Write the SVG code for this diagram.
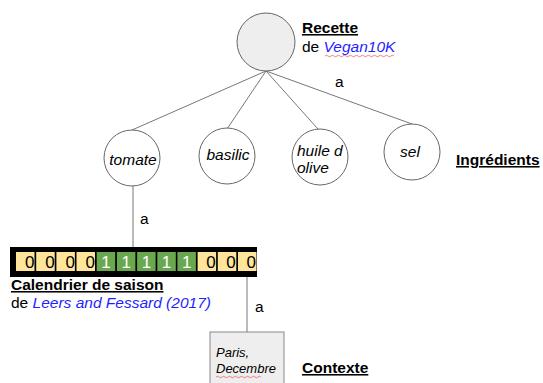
<svg xmlns="http://www.w3.org/2000/svg" width="543" height="383" viewBox="0 0 543 383">
<defs>
<style>
.c{fill:#fff;stroke:#666;stroke-width:1}
.ln{stroke:#777;stroke-width:1;fill:none}
.t{font-family:"Liberation Sans",Arial,sans-serif;font-size:15.5px;fill:#000}
.i{font-style:italic}
.h{font-weight:bold;text-decoration:underline}
.b{fill:#1f1fff;font-style:italic}
.y{fill:#ffe599}
.g{fill:#6aa84f}
.ct{font-family:"Liberation Sans",Arial,sans-serif;font-size:17px}
.w{fill:none;stroke:#e06666;stroke-width:0.8}
</style>
</defs>
<rect width="543" height="383" fill="#fff"/>
<g id="connectors">
<line class="ln" x1="266" y1="71" x2="132" y2="130"/>
<line class="ln" x1="266" y1="71" x2="227" y2="129"/>
<line class="ln" x1="266" y1="71" x2="318" y2="129"/>
<line class="ln" x1="266" y1="71" x2="412" y2="124"/>
<text class="t" x="335" y="87">a</text>
<line class="ln" x1="133" y1="186" x2="133" y2="247"/>
<text class="t" x="140" y="224">a</text>
<line class="ln" x1="247" y1="271" x2="247" y2="332"/>
<text class="t" x="255" y="312">a</text>
</g>
<g id="recette">
<circle cx="266" cy="42" r="29" fill="#eeeeee" stroke="#666"/>
<text class="t h" x="302" y="33">Recette</text>
<text class="t" x="302" y="52">de <tspan class="b">Vegan10K</tspan></text>
<path class="w" d="M325 56 q1.5 -1.5 3 0 t3 0 t3 0 t3 0 t3 0 t3 0 t3 0 t3 0 t3 0 t3 0 t3 0 t3 0 t3 0 t3 0 t3 0 t3 0 t3 0 t3 0 t3 0 t3 0 t3 0 t3 0 t3 0"/>
</g>
<g id="tomate">
<circle class="c" cx="132" cy="158" r="28"/>
<text class="t i" x="133" y="165" text-anchor="middle">tomate</text>
</g>
<g id="basilic">
<circle class="c" cx="227" cy="156" r="28"/>
<text class="t i" x="228" y="160" text-anchor="middle">basilic</text>
</g>
<g id="huile">
<circle class="c" cx="320" cy="157" r="28"/>
<text class="t i" x="297" y="156">huile d</text>
<text class="t i" x="297" y="173">olive</text>
</g>
<g id="sel">
<circle class="c" cx="412" cy="152" r="28"/>
<text class="t i" x="410" y="157" text-anchor="middle">sel</text>
</g>
<g id="ingredients-label">
<text class="t h" x="456" y="165">Ingrédients</text>
</g>
<g id="calendrier">
<rect x="10" y="247" width="247" height="30" fill="#000"/>
<rect class="y" x="16" y="252" width="18.5" height="19"/>
<rect class="y" x="36.2" y="252" width="18.5" height="19"/>
<rect class="y" x="56.4" y="252" width="18.5" height="19"/>
<rect class="y" x="76.5" y="252" width="18.5" height="19"/>
<rect class="g" x="96.7" y="252" width="18.5" height="19"/>
<rect class="g" x="116.9" y="252" width="18.5" height="19"/>
<rect class="g" x="137.1" y="252" width="18.5" height="19"/>
<rect class="g" x="157.3" y="252" width="18.5" height="19"/>
<rect class="g" x="177.4" y="252" width="18.5" height="19"/>
<rect class="y" x="197.6" y="252" width="18.5" height="19"/>
<rect class="y" x="217.8" y="252" width="18.5" height="19"/>
<rect class="y" x="238" y="252" width="18.5" height="19"/>
<g class="ct" text-anchor="end">
<text x="34.5" y="268">0</text>
<text x="54.7" y="268">0</text>
<text x="74.9" y="268">0</text>
<text x="95" y="268">0</text>
<text x="215.6" y="268">0</text>
<text x="235.8" y="268">0</text>
<text x="256" y="268">0</text>
</g>
<g class="ct" fill="#fff" text-anchor="middle">
<text x="106" y="268">1</text>
<text x="126.2" y="268">1</text>
<text x="146.4" y="268">1</text>
<text x="166.6" y="268">1</text>
<text x="186.7" y="268">1</text>
</g>
<text class="t h" x="11" y="290">Calendrier de saison</text>
<text class="t" x="11" y="308">de <tspan class="b">Leers and Fessard (2017)</tspan></text>
</g>
<g id="contexte">
<rect x="210" y="332" width="74" height="60" fill="#eeeeee" stroke="#888"/>
<text class="t i" x="216" y="357" style="font-size:13px">Paris,</text>
<text class="t i" x="216" y="373" style="font-size:13px">Decembre</text>
<path class="w" d="M216 377 q1.5 -1.5 3 0 t3 0 t3 0 t3 0 t3 0 t3 0 t3 0 t3 0 t3 0 t3 0 t3 0 t3 0 t3 0 t3 0 t3 0"/>
<text class="t h" x="302" y="373">Contexte</text>
</g>
</svg>
